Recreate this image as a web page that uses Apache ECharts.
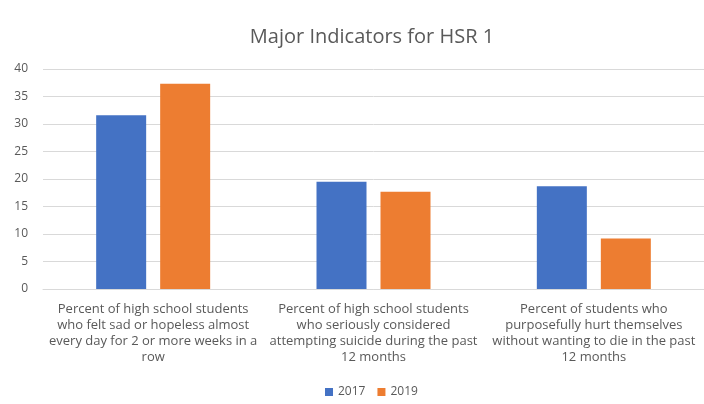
<!DOCTYPE html>
<html><head><meta charset="utf-8">
<script src="https://cdn.jsdelivr.net/npm/echarts@6/dist/echarts.min.js"></script>
<style>html,body{margin:0;padding:0;background:#fff}#c{width:704px;height:404px}</style>
</head><body><div id="c"></div>
<script>
const categories = [
  "Percent of high school students\nwho felt sad or hopeless almost\nevery day for 2 or more weeks in a\nrow",
  "Percent of high school students\nwho seriously considered\nattempting suicide during the past\n12 months",
  "Percent of students who\npurposefully hurt themselves\nwithout wanting to die in the past\n12 months"
];
const values2017 = [31.6, 19.5, 18.7];
const values2019 = [37.3, 17.7, 9.2];
const yTicks = {min: 0, max: 40, interval: 5};

const chart = echarts.init(document.getElementById('c'));
chart.setOption({
  animation: false,
  title: {text: 'Major Indicators for HSR 1', left: 367, top: 22, textAlign: 'center',
    textStyle: {fontFamily: 'Open Sans', fontSize: 20, fontWeight: 'normal', color: '#595959'}},
  legend: {bottom: 1, left: 320, itemWidth: 8, itemHeight: 8, itemGap: 12, icon: 'rect',
    textStyle: {fontFamily: 'Open Sans', fontSize: 12, color: '#595959'},
    data: ['2017', '2019']},
  grid: {left: 43, top: 69, right: -6, height: 220},
  xAxis: {type: 'category', data: categories,
    axisLine: {lineStyle: {color: '#d9d9d9'}}, axisTick: {show: false},
    axisLabel: {interval: 0, color: '#595959', fontFamily: 'Open Sans', fontSize: 13, lineHeight: 16, margin: 12}},
  yAxis: {type: 'value', min: yTicks.min, max: yTicks.max, interval: yTicks.interval,
    axisLine: {show: false}, axisTick: {show: false},
    axisLabel: {color: '#595959', fontFamily: 'Open Sans', fontSize: 12, margin: 15},
    splitLine: {lineStyle: {color: '#d9d9d9'}}},
  series: [
    {name: '2017', type: 'bar', data: values2017, barWidth: 50, barGap: '28%', itemStyle: {color: '#4472C4'}},
    {name: '2019', type: 'bar', data: values2019, barWidth: 50, itemStyle: {color: '#ED7D31'}}
  ]
});
</script></body></html>
